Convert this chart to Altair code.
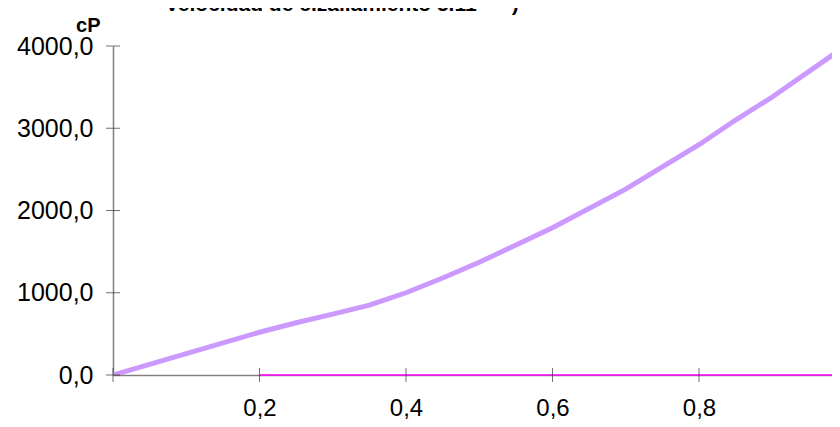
import altair as alt
import pandas as pd

# viscosity series (cP) vs x
x_vals = [0.0, 0.1, 0.2, 0.25, 0.3, 0.35, 0.4, 0.45, 0.5, 0.6, 0.7, 0.8, 0.85, 0.9, 1.0]
cp_vals = [0, 260, 520, 635, 740, 850, 1000, 1180, 1370, 1790, 2260, 2800, 3100, 3380, 4000]

# second series lying on zero
x2_vals = [0.2, 0.4, 0.6, 0.8, 1.0]
y2_vals = [0, 0, 0, 0, 0]

x_ticks = [0.0, 0.2, 0.4, 0.6, 0.8]
y_ticks = [0, 1000, 2000, 3000, 4000]

title_text = "Velocidad de cizallamiento 5.11\u00a0\u00a0\u00a0\u00a0\u00a0\u00a0)"

df1 = pd.DataFrame({"x": x_vals, "y": cp_vals})
df2 = pd.DataFrame({"x": x2_vals, "y": y2_vals})
dfx = pd.DataFrame({"x": x_ticks})
dfy = pd.DataFrame({"y": y_ticks})

FONT = "Liberation Sans"
xscale = alt.Scale(domain=[0, 0.9816], nice=False, zero=False)
yscale = alt.Scale(domain=[0, 4000], nice=False)

x_axis = alt.Axis(values=x_ticks, ticks=False, grid=False, domainColor="#808080",
                  domainWidth=1.5, labelFont=FONT, labelFontSize=24, labelColor="#000000",
                  labelPadding=21, labelBaseline="top",
                  labelExpr="datum.value == 0 ? '' : replace(format(datum.value, '.1f'), '.', ',')",
                  title=None)
y_axis = alt.Axis(values=y_ticks, ticks=False, grid=False, domainColor="#808080",
                  domainWidth=1.5, labelFont=FONT, labelFontSize=25, labelColor="#000000",
                  labelPadding=20,
                  labelExpr="replace(format(datum.value, '.1f'), '.', ',')",
                  title="cP", titleAngle=0, titleFont=FONT, titleFontSize=20,
                  titleFontWeight="bold", titleColor="#000000", titleAlign="right",
                  titleBaseline="alphabetic", titleX=-13, titleY=-15)

base_line = alt.Chart(df1).mark_line(color="#CC99FF", strokeWidth=5, clip=True).encode(
    x=alt.X("x:Q", scale=xscale, axis=x_axis),
    y=alt.Y("y:Q", scale=yscale, axis=y_axis),
)

zero_line = alt.Chart(df2).mark_line(color="#FF00FF", strokeWidth=1.5).encode(
    x=alt.X("x:Q", scale=xscale, axis=x_axis),
    y=alt.Y("y:Q", scale=yscale, axis=y_axis),
)

xt = alt.Chart(dfx).mark_tick(color="#333333", thickness=1, size=14, orient="vertical").encode(
    x=alt.X("x:Q", scale=xscale, axis=x_axis),
    y=alt.datum(0, scale=yscale),
)
yt = alt.Chart(dfy).mark_tick(color="#333333", thickness=1, size=14, orient="horizontal").encode(
    y=alt.Y("y:Q", scale=yscale, axis=y_axis),
    x=alt.datum(0, scale=xscale),
)

chart = alt.layer(base_line, zero_line, xt, yt).properties(
    width=719, height=329,
    title=alt.TitleParams(title_text, font=FONT, fontSize=21, fontWeight="bold",
                          color="#000000", anchor="start", frame="group", dx=52, dy=4),
    autosize=alt.AutoSizeParams(type="none"),
    padding={"left": 105, "top": 38, "right": 0, "bottom": 44},
).configure_view(stroke=None)

chart.save("out.html", embed_options={"renderer": "svg", "actions": False})
